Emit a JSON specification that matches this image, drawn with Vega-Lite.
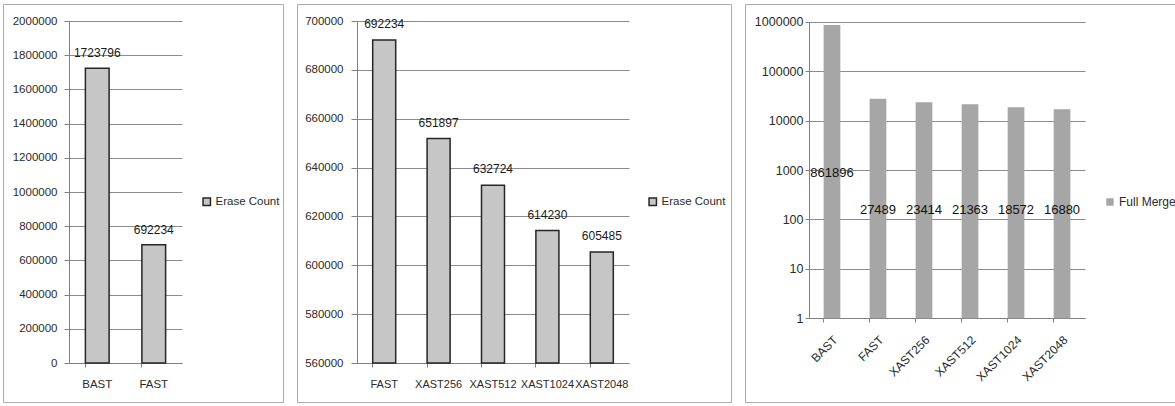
{
  "$schema": "https://vega.github.io/schema/vega-lite/v6.json",
  "background": "white",
  "padding": {"left": 2, "top": 3, "right": 0, "bottom": 0},
  "spacing": 12,
  "config": {
    "view": {"stroke": "#ababab", "strokeWidth": 1},
    "font": "Liberation Sans",
    "axis": {
      "labelFont": "Liberation Sans",
      "labelColor": "#2b2b2b",
      "domainColor": "#808080",
      "tickColor": "#808080",
      "gridColor": "#8c8c8c",
      "gridOpacity": 1
    },
    "legend": {"labelFont": "Liberation Sans", "labelColor": "#2b2b2b", "padding": 0}
  },
  "resolve": {"legend": {"color": "independent"}, "scale": {"color": "independent"}},
  "hconcat": [
    {
      "width": 280,
      "height": 398,
      "data": {"values": [
        {"scheme": "BAST", "erase": 1723796},
        {"scheme": "FAST", "erase": 692234}
      ]},
      "encoding": {
        "x": {"field": "scheme", "type": "nominal", "sort": null,
          "scale": {"range": [66, 179], "paddingInner": 0.58, "paddingOuter": 0.29},
          "axis": {"title": null, "offset": -39, "labelAngle": 0, "bandPosition": 0, "tickSize": 4, "labelPadding": 11, "labelFontSize": 11.5, "grid": false}},
        "y": {"field": "erase", "type": "quantitative",
          "scale": {"domain": [0, 2000000], "range": [359, 17], "nice": false, "zero": false},
          "axis": {"title": null, "offset": -66, "values": [0, 200000, 400000, 600000, 800000, 1000000, 1200000, 1400000, 1600000, 1800000, 2000000], "format": "d", "grid": true, "tickSize": 5, "labelPadding": 7, "labelFontSize": 11.5}}
      },
      "layer": [
        {
          "mark": {"type": "bar", "stroke": "#262626", "strokeWidth": 1.5},
          "encoding": {
            "y2": {"datum": 0},
            "color": {"datum": "Erase Count", "scale": {"range": ["#c6c6c6"]},
              "legend": {"title": null, "orient": "none", "legendX": 198, "legendY": 192, "symbolType": "square", "symbolSize": 55, "symbolStrokeColor": "#262626", "symbolStrokeWidth": 1.5, "labelFontSize": 11.5, "labelOffset": 3}}
          }
        },
        {
          "mark": {"type": "text", "dy": -15, "fontSize": 12, "color": "#1a1a1a", "font": "Liberation Sans"},
          "encoding": {"text": {"field": "erase", "type": "quantitative", "format": "d"}}
        }
      ]
    },
    {
      "width": 434,
      "height": 398,
      "data": {"values": [
        {"scheme": "FAST", "erase": 692234},
        {"scheme": "XAST256", "erase": 651897},
        {"scheme": "XAST512", "erase": 632724},
        {"scheme": "XAST1024", "erase": 614230},
        {"scheme": "XAST2048", "erase": 605485}
      ]},
      "encoding": {
        "x": {"field": "scheme", "type": "nominal", "sort": null,
          "scale": {"range": [60, 332], "paddingInner": 0.577, "paddingOuter": 0.2885},
          "axis": {"title": null, "offset": -39, "labelAngle": 0, "bandPosition": 0, "tickSize": 4, "labelPadding": 11, "labelFontSize": 11, "grid": false}},
        "y": {"field": "erase", "type": "quantitative",
          "scale": {"domain": [560000, 700000], "range": [359, 17], "nice": false, "zero": false},
          "axis": {"title": null, "offset": -60, "values": [560000, 580000, 600000, 620000, 640000, 660000, 680000, 700000], "format": "d", "grid": true, "tickSize": 6, "labelPadding": 8, "labelFontSize": 11.5}}
      },
      "layer": [
        {
          "mark": {"type": "bar", "stroke": "#262626", "strokeWidth": 1.5},
          "encoding": {
            "y2": {"datum": 560000},
            "color": {"datum": "Erase Count", "scale": {"range": ["#c6c6c6"]},
              "legend": {"title": null, "orient": "none", "legendX": 350, "legendY": 192, "symbolType": "square", "symbolSize": 55, "symbolStrokeColor": "#262626", "symbolStrokeWidth": 1.5, "labelFontSize": 11.5, "labelOffset": 3}}
          }
        },
        {
          "mark": {"type": "text", "dy": -16, "fontSize": 12, "color": "#1a1a1a", "font": "Liberation Sans"},
          "encoding": {"text": {"field": "erase", "type": "quantitative", "format": "d"}}
        }
      ]
    },
    {
      "width": 430,
      "height": 398,
      "data": {"values": [
        {"scheme": "BAST", "merge": 861896},
        {"scheme": "FAST", "merge": 27489},
        {"scheme": "XAST256", "merge": 23414},
        {"scheme": "XAST512", "merge": 21363},
        {"scheme": "XAST1024", "merge": 18572},
        {"scheme": "XAST2048", "merge": 16880}
      ]},
      "layer": [
        {
          "mark": {"type": "bar"},
          "encoding": {
            "x": {"field": "scheme", "type": "nominal", "sort": null,
              "scale": {"range": [64, 340], "paddingInner": 0.637, "paddingOuter": 0.318},
              "axis": {"title": null, "offset": -84, "labelAngle": -45, "bandPosition": 0, "tickSize": 4, "labelPadding": 12, "labelFontSize": 12, "grid": false}},
            "y": {"field": "merge", "type": "quantitative",
              "scale": {"type": "log", "domain": [1, 1000000], "range": [314.3, 17.7], "nice": false},
              "axis": {"title": null, "offset": -64, "values": [1, 10, 100, 1000, 10000, 100000, 1000000], "format": "d", "grid": true, "tickSize": 4, "labelPadding": 2, "labelFontSize": 12.5}},
            "y2": {"datum": 1},
            "color": {"datum": "Full Merge", "scale": {"range": ["#a6a6a6"]},
              "legend": {"title": null, "orient": "none", "legendX": 359, "legendY": 192, "symbolType": "square", "symbolSize": 55, "labelFontSize": 12, "labelOffset": 3}}
          }
        },
        {
          "transform": [{"filter": "datum.scheme === 'BAST'"}],
          "mark": {"type": "text", "fontSize": 13, "color": "#111111", "font": "Liberation Sans"},
          "encoding": {
            "x": {"field": "scheme", "type": "nominal", "sort": null},
            "y": {"datum": 880},
            "text": {"field": "merge", "type": "quantitative", "format": "d"}
          }
        },
        {
          "transform": [{"filter": "datum.scheme !== 'BAST'"}],
          "mark": {"type": "text", "fontSize": 13, "color": "#111111", "font": "Liberation Sans"},
          "encoding": {
            "x": {"field": "scheme", "type": "nominal", "sort": null},
            "y": {"datum": 155},
            "text": {"field": "merge", "type": "quantitative", "format": "d"}
          }
        }
      ]
    }
  ]
}
